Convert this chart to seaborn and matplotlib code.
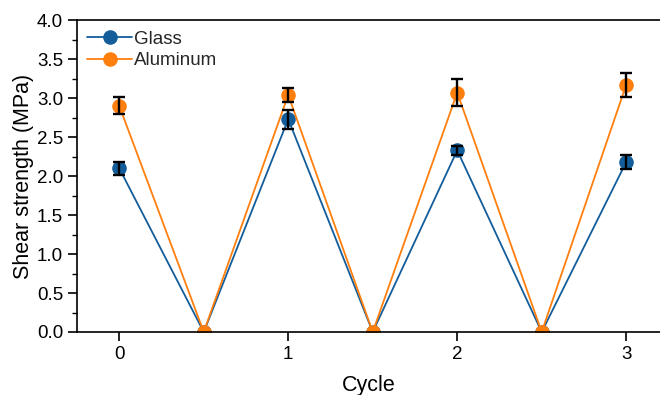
import matplotlib
matplotlib.use("Agg")
import matplotlib.pyplot as plt
import seaborn as sns
import pandas as pd
from matplotlib.ticker import MultipleLocator

sns.set_theme(style="ticks")
plt.rcParams['font.family'] = ['Liberation Sans', 'DejaVu Sans']

x_pos = [0, 0.5, 1, 1.5, 2, 2.5, 3]
glass = [2.10, 0.0, 2.73, 0.0, 2.33, 0.0, 2.18]
aluminum = [2.90, 0.0, 3.04, 0.0, 3.07, 0.0, 3.17]
glass_err = [0.08, 0.0, 0.12, 0.0, 0.06, 0.0, 0.09]
aluminum_err = [0.11, 0.0, 0.09, 0.0, 0.17, 0.0, 0.15]
series = ["Glass", "Aluminum"]
colors = ["#135d9a", "#ff7f0e"]
xticks = [0, 1, 2, 3]

df = pd.DataFrame({
    "Cycle": x_pos * 2,
    "Shear": glass + aluminum,
    "Err": glass_err + aluminum_err,
    "Series": [series[0]] * len(x_pos) + [series[1]] * len(x_pos),
})

fig = plt.figure(figsize=(6.6, 3.95), dpi=100)
ax = fig.add_axes([0.1167, 0.1595, 0.8833, 0.7895])

sns.lineplot(data=df, x="Cycle", y="Shear", hue="Series", palette=colors,
             marker="o", markersize=10.5, markeredgewidth=0, linewidth=1.3,
             ax=ax, legend=True, zorder=2)
for ln in ax.lines:
    ln.set_clip_on(True)
    ln.set_clip_box(ax.bbox)

for s in series:
    sub = df[(df.Series == s) & (df.Err > 0)]
    ax.errorbar(sub.Cycle, sub.Shear, yerr=sub.Err, fmt="none", ecolor="black",
                elinewidth=1.7, capsize=4.2, capthick=1.7, zorder=3)

ax.set_xlim(-0.25, 3.2)
ax.set_ylim(0, 4.0)
ax.set_xticks(xticks)
ax.set_xticklabels([str(t) for t in xticks])
ax.yaxis.set_major_locator(MultipleLocator(0.5))
ax.yaxis.set_minor_locator(MultipleLocator(0.25))
ax.yaxis.set_major_formatter(matplotlib.ticker.FormatStrFormatter("%.1f"))

ax.tick_params(axis="both", which="major", direction="out", length=6.5, width=1.2,
               labelsize=13.5, color="black", labelcolor="black", pad=3.5)
ax.tick_params(axis="y", which="minor", direction="out", length=3.5, width=1.0, color="black")

for side in ["left", "bottom", "top"]:
    ax.spines[side].set_color("black")
    ax.spines[side].set_linewidth(1.2)
    ax.spines[side].set_visible(True)
ax.spines["right"].set_visible(False)

ax.set_xlabel("Cycle", fontsize=15.5, labelpad=9, color="black")
ax.set_ylabel("Shear strength (MPa)", fontsize=15.5, labelpad=2, color="black")

leg = ax.legend(loc="upper left", frameon=False, fontsize=13.5,
                handlelength=2.4, handletextpad=0.1, borderaxespad=0.15,
                labelspacing=0.25, bbox_to_anchor=(0.0, 1.0))
for h in leg.legend_handles:
    h.set_markersize(10.5)

fig.savefig("out.png", dpi=100)
